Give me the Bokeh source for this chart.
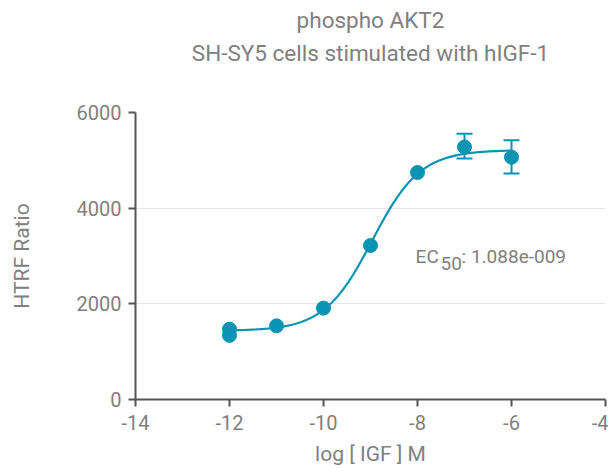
import numpy as np
from bokeh.plotting import figure
from bokeh.models import Title, Label, Range1d, Whisker, ColumnDataSource, FixedTicker
from bokeh.embed import file_html
from bokeh.resources import INLINE

# data
log_conc = [-12, -12, -11, -10, -9, -8, -7, -6]
ratio = [1470, 1340, 1540, 1910, 3220, 4745, 5280, 5065]
err_x = [-7, -6]
err_lo = [5040, 4725]
err_hi = [5555, 5420]

x_ticks = [-14, -12, -10, -8, -6, -4]
x_tick_labels = ["-14", "-12", "-10", "-8", "-6", "-4"]
y_ticks = [0, 2000, 4000, 6000]
y_tick_labels = ["0", "2000", "4000", "6000"]

# 4PL fit parameters
fit_bottom = 1435
fit_top = 5215
fit_logec50 = -8.963
fit_hill = 0.85
fit_range = [-12, -6]

COLOR = "#0a94b4"
GRAY = "#808080"
FONT = "Roboto"

p = figure(width=608, height=468, output_backend="svg", toolbar_location=None,
           x_range=Range1d(-14, -4), y_range=Range1d(0, 6000),
           min_border_left=135, min_border_right=3, min_border_top=0, min_border_bottom=10)
p.outline_line_color = None
p.background_fill_color = "white"

xf = np.linspace(fit_range[0], fit_range[1], 300)
yf = fit_bottom + (fit_top - fit_bottom) / (1 + 10 ** ((fit_logec50 - xf) * fit_hill))
p.line(xf, yf, line_color=COLOR, line_width=2.2)

src = ColumnDataSource(dict(x=err_x, lo=err_lo, hi=err_hi))
w = Whisker(source=src, base="x", lower="lo", upper="hi", dimension="height",
            line_color=COLOR, line_width=2)
for h in (w.upper_head, w.lower_head):
    h.size = 16
    h.line_color = COLOR
    h.line_width = 2
p.add_layout(w)

p.scatter(log_conc, ratio, size=14, fill_color=COLOR, line_color=COLOR)

# axes
for ax in (p.xaxis[0], p.yaxis[0]):
    ax.axis_line_color = "#555555"
    ax.axis_line_width = 2
    ax.major_tick_line_color = "#555555"
    ax.major_tick_line_width = 2
    ax.major_tick_out = 7
    ax.major_tick_in = 0
    ax.minor_tick_line_color = None
    ax.major_label_text_color = GRAY
    ax.major_label_text_font = FONT
    ax.major_label_text_font_size = "20px"
    ax.axis_label_text_color = GRAY
    ax.axis_label_text_font = FONT
    ax.axis_label_text_font_size = "21px"
    ax.axis_label_text_font_style = "normal"

p.xaxis.ticker = FixedTicker(ticks=x_ticks)
p.yaxis.ticker = FixedTicker(ticks=y_ticks)
p.xaxis.major_label_overrides = dict(zip(x_ticks, x_tick_labels))
p.yaxis.major_label_overrides = dict(zip(y_ticks, y_tick_labels))
p.xaxis.axis_label = "log [ IGF ] M"
p.yaxis.axis_label = "HTRF Ratio"
p.xaxis.major_label_standoff = 8
p.yaxis.major_label_standoff = 7
p.xaxis.axis_label_standoff = 9
p.yaxis.axis_label_standoff = 40
p.xgrid.grid_line_color = None
p.ygrid.grid_line_color = "#e6e6e6"
p.ygrid.grid_line_width = 1

# titles (later-added sits higher); first one is a blank spacer
t0 = Title(text=" ", text_font_size="13px", standoff=30)
t2 = Title(text="SH-SY5 cells stimulated with hIGF-1", align="center",
           text_font=FONT, text_font_size="22.5px", text_font_style="normal",
           text_color=GRAY, standoff=0)
t1 = Title(text="phospho AKT2", align="center",
           text_font=FONT, text_font_size="22.5px", text_font_style="normal",
           text_color=GRAY, standoff=9)
p.add_layout(t0, "above")
p.add_layout(t2, "above")
p.add_layout(t1, "above")

# EC50 annotation
lab_kw = dict(text_font=FONT, text_font_size="19px", text_color=GRAY,
              x_units="data", y_units="data", text_baseline="alphabetic")
p.add_layout(Label(x=-8.04, y=2990, y_offset=0, text="EC", **lab_kw))
p.add_layout(Label(x=-8.04, y=2990, x_offset=25, y_offset=-7, text="50", **lab_kw))
p.add_layout(Label(x=-8.04, y=2990, x_offset=46, y_offset=0, text=": 1.088e-009", **lab_kw))

open("out.html", "w").write(file_html(p, INLINE))
